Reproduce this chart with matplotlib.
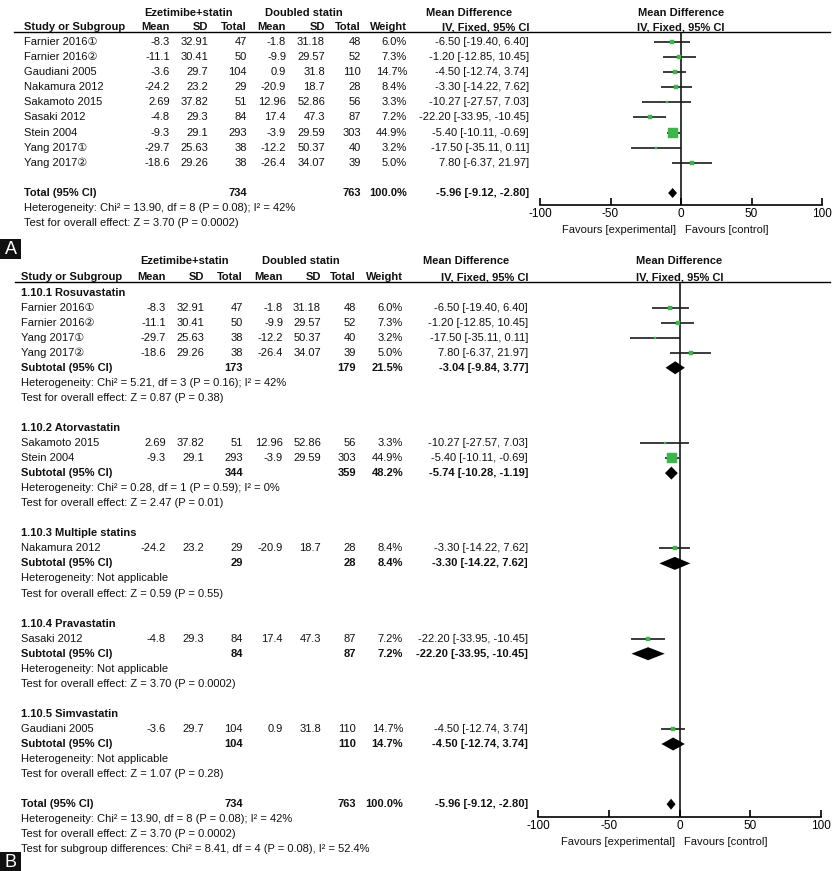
import numpy as np
import matplotlib
matplotlib.use('Agg')
import matplotlib.pyplot as plt
from matplotlib.patches import Rectangle

plt.rcParams['font.family'] = ['Liberation Sans', 'DejaVu Sans', 'Noto Sans CJK SC']
plt.rcParams['font.size'] = 8

# studies (order of panel A)
studies = ['Farnier 2016①', 'Farnier 2016②', 'Gaudiani 2005', 'Nakamura 2012', 'Sakamoto 2015',
           'Sasaki 2012', 'Stein 2004', 'Yang 2017①', 'Yang 2017②']
eze_mean = [-8.3, -11.1, -3.6, -24.2, 2.69, -4.8, -9.3, -29.7, -18.6]
eze_sd = [32.91, 30.41, 29.7, 23.2, 37.82, 29.3, 29.1, 25.63, 29.26]
eze_n = [47, 50, 104, 29, 51, 84, 293, 38, 38]
dbl_mean = [-1.8, -9.9, 0.9, -20.9, 12.96, 17.4, -3.9, -12.2, -26.4]
dbl_sd = [31.18, 29.57, 31.8, 18.7, 52.86, 47.3, 29.59, 50.37, 34.07]
dbl_n = [48, 52, 110, 28, 56, 87, 303, 40, 39]
weight = [6.0, 7.3, 14.7, 8.4, 3.3, 7.2, 44.9, 3.2, 5.0]
md = [-6.50, -1.20, -4.50, -3.30, -10.27, -22.20, -5.40, -17.50, 7.80]
ci_lo = [-19.40, -12.85, -12.74, -14.22, -27.57, -33.95, -10.11, -35.11, -6.37]
ci_hi = [6.40, 10.45, 3.74, 7.62, 7.03, -10.45, -0.69, 0.11, 21.97]

total_n = [734, 763]
total_w = 100.0
total_md = [-5.96, -9.12, -2.80]
total_het = 'Heterogeneity: Chi² = 13.90, df = 8 (P = 0.08); I² = 42%'
total_z = 'Test for overall effect: Z = 3.70 (P = 0.0002)'
subgroup_test = 'Test for subgroup differences: Chi² = 8.41, df = 4 (P = 0.08), I² = 52.4%'

# subgroups (panel B)
sub_names = ['1.10.1 Rosuvastatin', '1.10.2 Atorvastatin', '1.10.3 Multiple statins',
             '1.10.4 Pravastatin', '1.10.5 Simvastatin']
sub_members = [[0, 1, 7, 8], [4, 6], [3], [5], [2]]
sub_n_eze = [173, 344, 29, 84, 104]
sub_n_dbl = [179, 359, 28, 87, 110]
sub_weight = [21.5, 48.2, 8.4, 7.2, 14.7]
sub_md = [-3.04, -5.74, -3.30, -22.20, -4.50]
sub_lo = [-9.84, -10.28, -14.22, -33.95, -12.74]
sub_hi = [3.77, -1.19, 7.62, -10.45, 3.74]
sub_het = ['Chi² = 5.21, df = 3 (P = 0.16); I² = 42%', 'Chi² = 0.28, df = 1 (P = 0.59); I² = 0%',
           'Not applicable', 'Not applicable', 'Not applicable']
sub_z = ['Z = 0.87 (P = 0.38)', 'Z = 2.47 (P = 0.01)', 'Z = 0.59 (P = 0.55)',
         'Z = 3.70 (P = 0.0002)', 'Z = 1.07 (P = 0.28)']

ticks = [-100, -50, 0, 50, 100]
green = '#3db54a'

W, H = 838, 871
fig = plt.figure(figsize=(W / 100, H / 100), dpi=100)
tax = fig.add_axes([0, 0, 1, 1])
tax.set_xlim(0, W)
tax.set_ylim(H, 0)
tax.axis('off')

# column positions (pixels) for each panel
colsA = dict(name=24, em=170, esd=208, en=247, dm=286, dsd=325, dn=361, w=407, mdt=529,
             g1=189, g2=304, mdh=469, lo=540, hi=822, x0=14, x1=830,
             ghdr=13, chdr=27, line=32, axis=205, fav=230)
colsB = dict(name=21, em=166, esd=204, en=243, dm=283, dsd=321, dn=356, w=403, mdt=528,
             g1=185, g2=301, mdh=466, lo=538, hi=821, x0=15, x1=830,
             ghdr=261, chdr=277, line=282, axis=817, fav=842)


def txt(x, y, s, ha='left', bold=False):
    tax.text(x, y, s, ha=ha, va='center', fontsize=8,
             fontweight='bold' if bold else 'normal', color='#111111')


def ci_str(m, lo, hi):
    return f'{m:.2f} [{lo:.2f}, {hi:.2f}]'


def header(c):
    txt(c['g1'], c['ghdr'], 'Ezetimibe+statin', ha='center', bold=True)
    txt(c['g2'], c['ghdr'], 'Doubled statin', ha='center', bold=True)
    txt(c['mdh'], c['ghdr'], 'Mean Difference', ha='center', bold=True)
    y = c['chdr']
    txt(c['name'], y, 'Study or Subgroup', bold=True)
    for key, lab in [('em', 'Mean'), ('esd', 'SD'), ('en', 'Total'), ('dm', 'Mean'),
                     ('dsd', 'SD'), ('dn', 'Total'), ('w', 'Weight'), ('mdt', 'IV, Fixed, 95% CI')]:
        txt(c[key], y, lab, ha='right', bold=True)
    x0 = c['lo'] + (c['hi'] - c['lo']) / 2
    txt(x0, c['ghdr'], 'Mean Difference', ha='center', bold=True)
    txt(x0, y, 'IV, Fixed, 95% CI', ha='center', bold=True)
    tax.plot([c['x0'], c['x1']], [c['line'], c['line']], color='black', lw=1.0)
    txt(x0 - 5, c['fav'], 'Favours [experimental]', ha='right')
    txt(x0 + 4, c['fav'], 'Favours [control]', ha='left')


def forest_axes(c):
    fa = fig.add_axes([c['lo'] / W, 1 - c['axis'] / H, (c['hi'] - c['lo']) / W,
                       (c['axis'] - c['line']) / H])
    fa.set_xlim(-100, 100)
    fa.set_ylim(c['axis'], c['line'])
    fa.patch.set_alpha(0)
    for s in ['top', 'left', 'right']:
        fa.spines[s].set_visible(False)
    fa.spines['bottom'].set_linewidth(1.2)
    fa.set_yticks([])
    fa.set_xticks(ticks)
    fa.set_xticklabels([str(t) for t in ticks])
    fa.tick_params(axis='x', direction='in', length=5, width=1.2, pad=2, labelsize=8.5)
    fa.axvline(0, color='black', lw=1.1)
    return fa


def study_row(fa, c, y, i):
    txt(c['name'], y, studies[i])
    txt(c['em'], y, str(eze_mean[i]), ha='right')
    txt(c['esd'], y, str(eze_sd[i]), ha='right')
    txt(c['en'], y, str(eze_n[i]), ha='right')
    txt(c['dm'], y, str(dbl_mean[i]), ha='right')
    txt(c['dsd'], y, str(dbl_sd[i]), ha='right')
    txt(c['dn'], y, str(dbl_n[i]), ha='right')
    txt(c['w'], y, f'{weight[i]:.1f}%', ha='right')
    txt(c['mdt'], y, ci_str(md[i], ci_lo[i], ci_hi[i]), ha='right')
    fa.plot([ci_lo[i], ci_hi[i]], [y, y], color='#1a1a1a', lw=1.2, solid_capstyle='butt')
    ms = 1.6 + 5.6 * weight[i] / 44.9
    fa.plot(md[i], y, marker='s', ms=ms, color=green, mec=green, mew=0.3)


def summary_row(fa, c, y, label, n1, n2, w, m, lo, hi, h):
    txt(c['name'], y, label, bold=True)
    txt(c['en'], y, str(n1), ha='right', bold=True)
    txt(c['dn'], y, str(n2), ha='right', bold=True)
    txt(c['w'], y, f'{w:.1f}%', ha='right', bold=True)
    txt(c['mdt'], y, ci_str(m, lo, hi), ha='right', bold=True)
    fa.fill([lo, m, hi, m], [y, y - h, y, y + h], color='black', lw=0)


# ---------- panel A ----------
header(colsA)
faA = forest_axes(colsA)
rowA = lambda k: 42 + 15.1 * k
for i in range(len(studies)):
    study_row(faA, colsA, rowA(i), i)
summary_row(faA, colsA, rowA(10), 'Total (95% CI)', total_n[0], total_n[1], total_w, *total_md, h=5)
txt(colsA['name'], rowA(11), total_het)
txt(colsA['name'], rowA(12), total_z)

# ---------- panel B ----------
header(colsB)
faB = forest_axes(colsB)
rowB = lambda k: 292.5 + 15.05 * k
k = 0
for g in range(len(sub_names)):
    txt(colsB['name'], rowB(k), sub_names[g], bold=True)
    k += 1
    for i in sub_members[g]:
        study_row(faB, colsB, rowB(k), i)
        k += 1
    summary_row(faB, colsB, rowB(k), 'Subtotal (95% CI)', sub_n_eze[g], sub_n_dbl[g],
                sub_weight[g], sub_md[g], sub_lo[g], sub_hi[g], h=6.5)
    k += 1
    txt(colsB['name'], rowB(k), 'Heterogeneity: ' + sub_het[g])
    k += 1
    txt(colsB['name'], rowB(k), 'Test for overall effect: ' + sub_z[g])
    k += 2
summary_row(faB, colsB, rowB(k), 'Total (95% CI)', total_n[0], total_n[1], total_w, *total_md, h=5.5)
txt(colsB['name'], rowB(k + 1), total_het)
txt(colsB['name'], rowB(k + 2), total_z)
txt(colsB['name'], rowB(k + 3), subgroup_test)

# panel letters
for lab, y0 in [('A', 239), ('B', 852)]:
    tax.add_patch(Rectangle((0, y0), 21, 20, color='#111111', lw=0))
    tax.text(10.5, y0 + 10.5, lab, ha='center', va='center', color='white',
             fontsize=13, family=['Liberation Sans', 'DejaVu Sans'])

fig.savefig('out.png', dpi=100, facecolor='white')
